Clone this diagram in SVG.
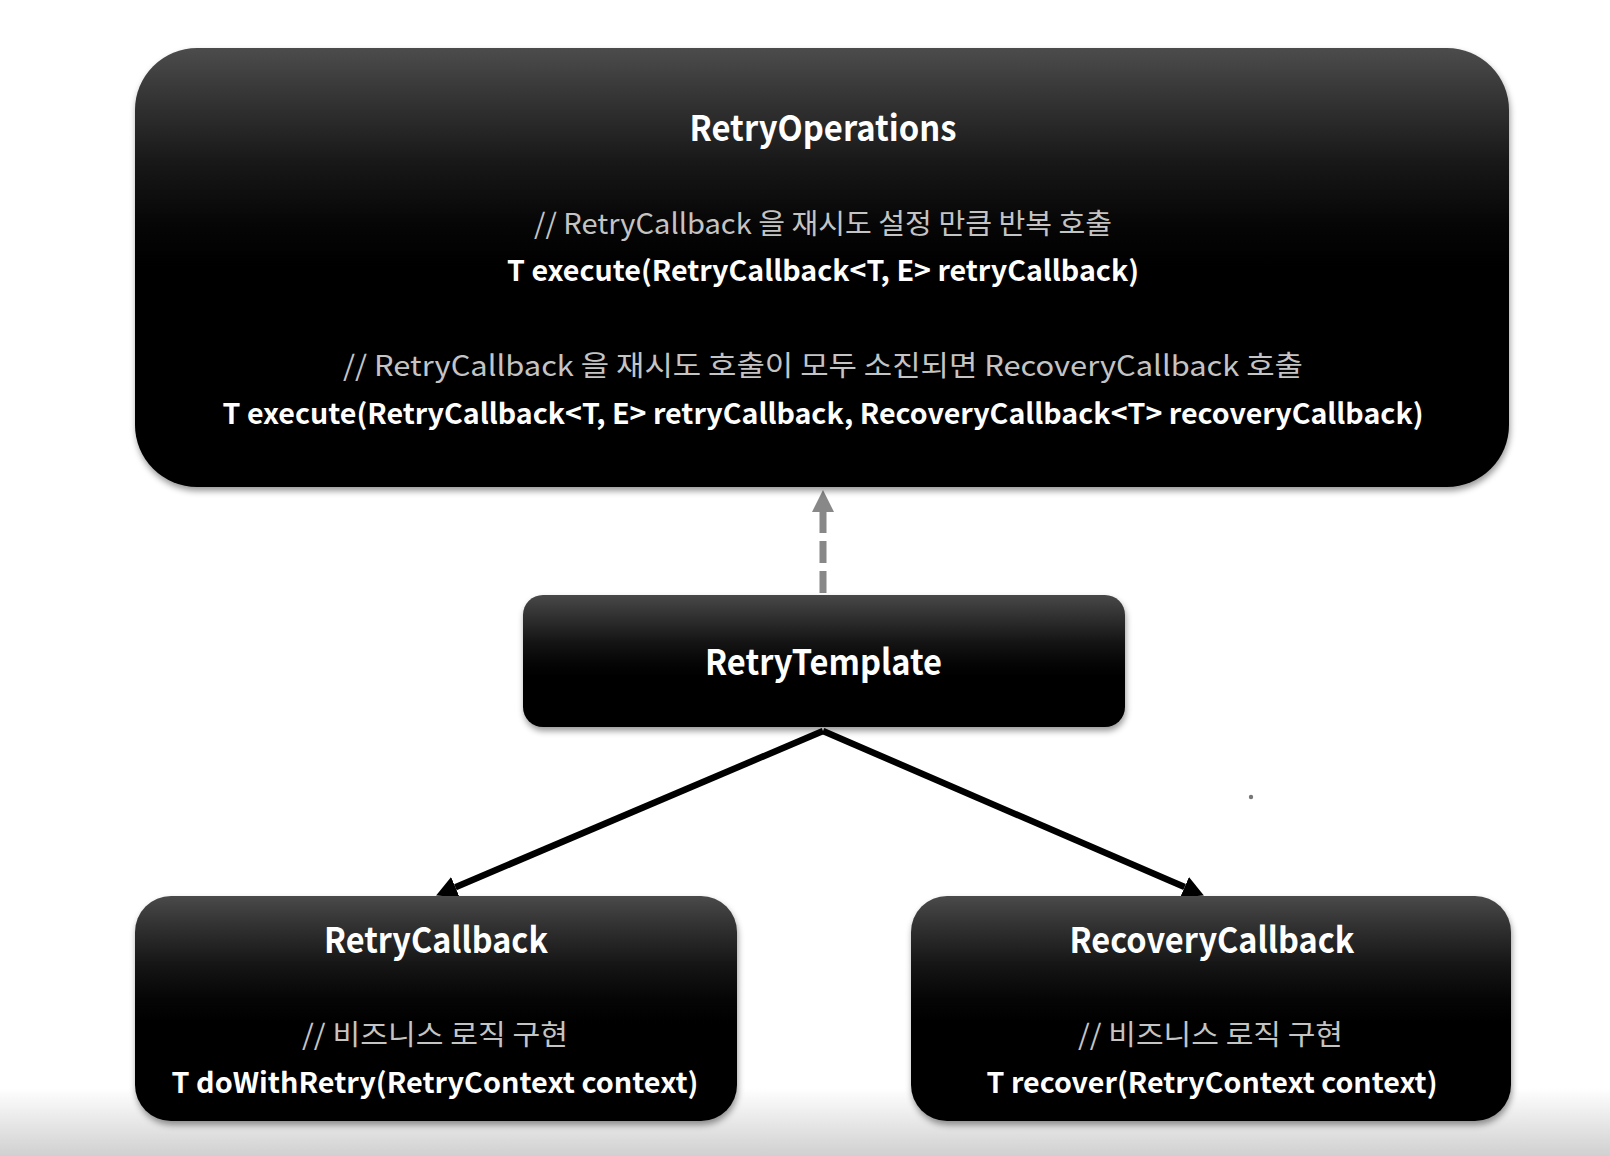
<svg xmlns="http://www.w3.org/2000/svg" width="1610" height="1156" viewBox="0 0 1610 1156">
<style>
.t{font-family:"Noto Sans CJK KR","Noto Sans",sans-serif;text-anchor:middle}
.title{font-size:35px;font-weight:700;fill:#ffffff}
.code{font-size:28px;font-weight:700;fill:#ffffff}
.cmt{font-size:28px;font-weight:400;fill:#c4c4c4}
.box{filter:url(#sh)}
</style>
<defs>
<linearGradient id="gBig" x1="0" y1="0" x2="0" y2="1">
<stop offset="0" stop-color="#4c4c4c"/><stop offset="0.12" stop-color="#333"/><stop offset="0.26" stop-color="#181818"/><stop offset="0.4" stop-color="#060606"/><stop offset="0.5" stop-color="#000"/>
</linearGradient>
<linearGradient id="gMid" x1="0" y1="0" x2="0" y2="1">
<stop offset="0" stop-color="#484848"/><stop offset="0.18" stop-color="#2e2e2e"/><stop offset="0.36" stop-color="#141414"/><stop offset="0.52" stop-color="#050505"/><stop offset="0.62" stop-color="#000"/>
</linearGradient>
<linearGradient id="gSmall" x1="0" y1="0" x2="0" y2="1">
<stop offset="0" stop-color="#4a4a4a"/><stop offset="0.14" stop-color="#303030"/><stop offset="0.3" stop-color="#161616"/><stop offset="0.45" stop-color="#060606"/><stop offset="0.56" stop-color="#000"/>
</linearGradient>
<linearGradient id="gFloor" x1="0" y1="0" x2="0" y2="1">
<stop offset="0" stop-color="#ffffff"/><stop offset="1" stop-color="#d0d0d0"/>
</linearGradient>
<filter id="sh" x="-5%" y="-5%" width="110%" height="115%" color-interpolation-filters="sRGB">
<feDropShadow dx="1" dy="4" stdDeviation="3" flood-color="#000" flood-opacity="0.4"/>
</filter>
<marker id="ahB" markerUnits="userSpaceOnUse" markerWidth="22" markerHeight="22" refX="0" refY="11" orient="auto">
<path d="M0,0 L21,11 L0,22 z" fill="#000"/>
</marker>
<marker id="ahG" markerUnits="userSpaceOnUse" markerWidth="22" markerHeight="22" refX="0" refY="11" orient="auto">
<path d="M0,0 L22,11 L0,22 z" fill="#888"/>
</marker>
</defs>
<rect x="0" y="0" width="1610" height="1156" fill="#fff"/>
<rect x="0" y="1088" width="1610" height="68" fill="url(#gFloor)"/>
<circle cx="1251" cy="797" r="2.2" fill="#777"/>

<g id="connectors">
<line x1="823" y1="593" x2="823" y2="512" stroke="#888" stroke-width="7" stroke-dasharray="22 8" marker-end="url(#ahG)"/>
<line x1="823" y1="731" x2="455.4" y2="887.2" stroke="#000" stroke-width="6.5" marker-end="url(#ahB)"/>
<line x1="823" y1="731" x2="1184.6" y2="887.1" stroke="#000" stroke-width="6.5" marker-end="url(#ahB)"/>
</g>

<g id="RetryOperations">
<rect class="box" x="135" y="48" width="1374" height="439" rx="62" ry="62" fill="url(#gBig)"/>
<text class="t title" x="823" y="141" textLength="267" lengthAdjust="spacingAndGlyphs">RetryOperations</text>
<text class="t cmt" x="823" y="234" textLength="578" lengthAdjust="spacingAndGlyphs">// RetryCallback 을 재시도 설정 만큼 반복 호출</text>
<text class="t code" x="823" y="281" textLength="632" lengthAdjust="spacingAndGlyphs">T execute(RetryCallback&lt;T, E&gt; retryCallback)</text>
<text class="t cmt" x="823" y="376" textLength="960" lengthAdjust="spacingAndGlyphs">// RetryCallback 을 재시도 호출이 모두 소진되면 RecoveryCallback 호출</text>
<text class="t code" x="823" y="424" textLength="1201" lengthAdjust="spacingAndGlyphs">T execute(RetryCallback&lt;T, E&gt; retryCallback, RecoveryCallback&lt;T&gt; recoveryCallback)</text>
</g>

<g id="RetryTemplate">
<rect class="box" x="523" y="595" width="602" height="132" rx="20" ry="20" fill="url(#gMid)"/>
<text class="t title" x="823.5" y="675" textLength="237" lengthAdjust="spacingAndGlyphs">RetryTemplate</text>
</g>

<g id="RetryCallback">
<rect class="box" x="135" y="896" width="602" height="225" rx="36" ry="36" fill="url(#gSmall)"/>
<text class="t title" x="436" y="953" textLength="224" lengthAdjust="spacingAndGlyphs">RetryCallback</text>
<text class="t cmt" x="435" y="1045" textLength="266" lengthAdjust="spacingAndGlyphs">// 비즈니스 로직 구현</text>
<text class="t code" x="435" y="1093" textLength="527" lengthAdjust="spacingAndGlyphs">T doWithRetry(RetryContext context)</text>
</g>

<g id="RecoveryCallback">
<rect class="box" x="911" y="896" width="600" height="225" rx="36" ry="36" fill="url(#gSmall)"/>
<text class="t title" x="1212" y="953" textLength="285" lengthAdjust="spacingAndGlyphs">RecoveryCallback</text>
<text class="t cmt" x="1210.5" y="1045" textLength="265" lengthAdjust="spacingAndGlyphs">// 비즈니스 로직 구현</text>
<text class="t code" x="1212" y="1093" textLength="451" lengthAdjust="spacingAndGlyphs">T recover(RetryContext context)</text>
</g>
</svg>
